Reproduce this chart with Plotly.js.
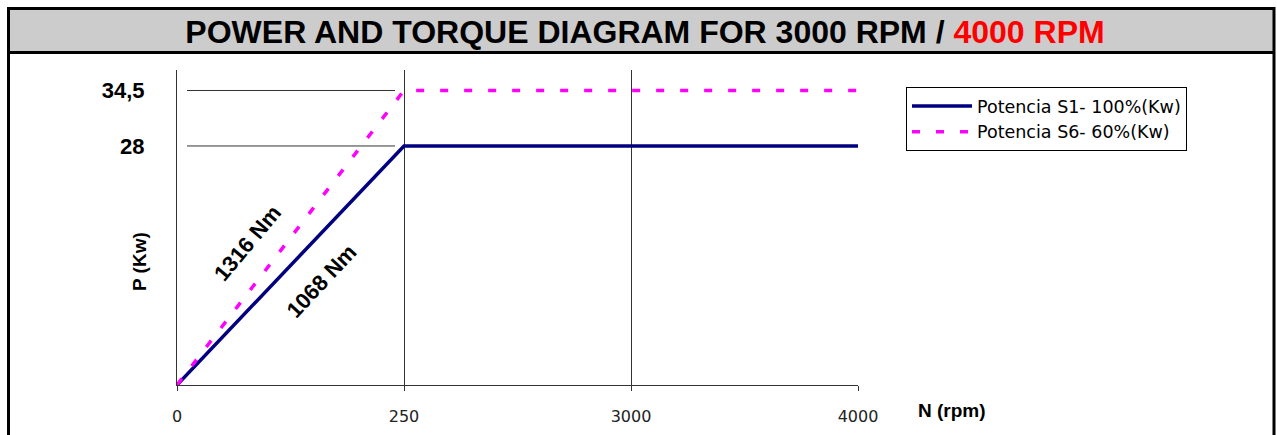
<!DOCTYPE html>
<html>
<head>
<meta charset="utf-8">
<script src="https://cdn.plot.ly/plotly-3.0.1.min.js"></script>
<style>
html,body{margin:0;padding:0;background:#fff;}
#chart{width:1277px;height:435px;}
</style>
</head>
<body>
<div id="chart"></div>
<script>
// ---- data ----
const categories = ['0', '250', '3000', '4000'];
const powerS1 = [0, 28, 28, 28];        // Potencia S1- 100%(Kw)
const powerS6 = [0, 34.5, 34.5, 34.5];  // Potencia S6- 60%(Kw)
const seriesNames = ['Potencia S1- 100%(Kw)', 'Potencia S6- 60%(Kw)'];
const yTickVals = [28, 34.5];
const yTickText = ['28', '34,5'];
const torqueLabels = ['1316 Nm', '1068 Nm'];
const titleMain = 'POWER AND TORQUE DIAGRAM FOR 3000 RPM / ';
const titleRed = '4000 RPM';

// ---- layout helpers (pixel -> paper) ----
const W = 1277, H = 435;
const mL = 177, mR = W - 858, mT = 70, mB = H - 385;
const pw = W - mL - mR, ph = H - mT - mB;
const px = v => (v - mL) / pw;
const py = v => (H - mB - v) / ph;

const lineFont = 'Liberation Sans, Arial, sans-serif';

const traces = [
  {
    x: categories, y: powerS1, name: seriesNames[0], type: 'scatter', mode: 'lines',
    line: {color: '#000080', width: 3.5}, hoverinfo: 'skip'
  },
  {
    x: categories, y: powerS6, name: seriesNames[1], type: 'scatter', mode: 'lines',
    line: {color: '#FF00FF', width: 3.5, dash: '8px,16px'}, hoverinfo: 'skip'
  }
];

const shapes = [
  // title band
  {type: 'rect', xref: 'paper', yref: 'paper', x0: px(10), x1: px(1273), y0: py(10), y1: py(51),
   fillcolor: '#CCCCCC', line: {width: 0}, layer: 'below'},
  // outer frame
  {type: 'rect', xref: 'paper', yref: 'paper', x0: px(8.5), x1: px(1274), y0: py(8.5), y1: py(445),
   fillcolor: 'rgba(0,0,0,0)', line: {color: '#000', width: 3}},
  // title separator
  {type: 'line', xref: 'paper', yref: 'paper', x0: px(8.5), x1: px(1274), y0: py(52.5), y1: py(52.5),
   line: {color: '#000', width: 3}}
];
// reference lines at the y tick values
yTickVals.forEach(v => {
  shapes.push({type: 'line', xref: 'paper', yref: 'y', x0: px(187), x1: px(395), y0: v, y1: v,
               line: {color: '#333', width: 1}});
});

const ann = (text, x, y, angle, size) => ({
  text: '<b>' + text + '</b>', xref: 'paper', yref: 'paper', x: px(x), y: py(y),
  xanchor: 'center', yanchor: 'middle', textangle: angle, showarrow: false,
  font: {family: lineFont, size: size, color: '#000'}
});

const annotations = [
  ann(torqueLabels[0], 247, 243, -50, 22),
  ann(torqueLabels[1], 321, 281, -47, 22),
  ann('N (rpm)', 952, 410, 0, 19),
  ann('P (Kw)', 139, 262, -90, 19)
];

const layout = {
  width: W, height: H,
  margin: {l: mL, r: mR, t: mT, b: mB, pad: 0},
  paper_bgcolor: '#fff', plot_bgcolor: '#fff',
  title: {
    text: '<b>' + titleMain + '<span style="color:#FF0000">' + titleRed + '</span></b>',
    x: 645 / W, xref: 'container', xanchor: 'center',
    y: 1 - 32 / H, yref: 'container', yanchor: 'middle',
    font: {family: lineFont, size: 32, color: '#000'}
  },
  xaxis: {
    type: 'category', range: [0, 3], fixedrange: true,
    showgrid: true, gridcolor: '#333', gridwidth: 1,
    showline: true, linecolor: '#333', linewidth: 1,
    ticks: 'outside', ticklen: 5, tickcolor: '#333',
    zeroline: false, ticklabelstandoff: 12,
    tickfont: {family: 'DejaVu Sans, sans-serif', size: 16, color: '#222'}
  },
  yaxis: {
    range: [0, 36.9], fixedrange: true,
    showgrid: false, zeroline: false,
    showline: true, linecolor: '#333', linewidth: 1,
    tickvals: yTickVals, ticktext: yTickText, ticks: '',
    ticklabelstandoff: 27,
    tickfont: {family: lineFont, size: 22, color: '#000', weight: 'bold'}
  },
  legend: {
    x: px(906), y: py(87), xanchor: 'left', yanchor: 'top',
    bgcolor: '#fff', bordercolor: '#000', borderwidth: 1,
    itemwidth: 60, tracegroupgap: 0,
    font: {family: 'DejaVu Sans, sans-serif', size: 17.5, color: '#000'}
  },
  shapes: shapes,
  annotations: annotations,
  showlegend: true
};

Plotly.newPlot('chart', traces, layout, {displayModeBar: false, staticPlot: true});
</script>
</body>
</html>
